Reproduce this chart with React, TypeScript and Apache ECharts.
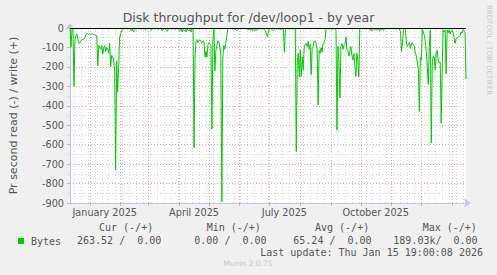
import React, { useEffect, useRef } from 'react';
import * as echarts from 'echarts';

const START_DAY_UTC = Date.UTC(2024, 11, 12);
const DAY_COUNT = 400;
const TITLE = 'Disk throughput for /dev/loop1 - by year';
const Y_AXIS_NAME = 'Pr second read (-) / write (+)';
const Y_MIN = -900;
const Y_MAX = 0;
const Y_STEP = 100;
const MONTH_LABELS = ['January 2025', 'April 2025', 'July 2025', 'October 2025'];
const MONTH_LABEL_DATES = ['2025-01-16', '2025-04-16', '2025-07-16', '2025-10-16'];
const SERIES_NAME = 'Bytes';

// read (-) bytes per second, one value per day from 2024-12-12
const READ_BYTES = [
  -5, -100, -5, -10, -300, -60, -40, -30, -60, -80,
  -75, -65, -60, -60, -55, -50, -35, -30, -30, -35,
  -30, -35, -30, -30, -35, -35, -40, -40, -195, -90,
  -100, -110, -90, -135, -100, -90, -120, -100, -110, -130,
  -80, -200, -140, -145, -165, -220, -730, -170, -330, -200,
  -50, -30, -15, -8, -5, -3, -2, -2, -5, -3,
  -2, -5, -15, -5, -20, -10, -5, -3, -2, -2,
  -3, -2, -8, -3, -2, -2, -10, -3, -2, -2,
  -2, -3, -12, -3, -2, -2, -5, -2, -2, -8,
  -3, -2, -2, -15, -5, -2, -3, -12, -18, -5,
  -3, -2, -5, -2, -3, -2, -8, -2, -3, -2,
  -10, -15, -5, -20, -8, -15, -10, -20, -5, -12,
  -15, -8, -20, -5, -3, -615, -150, -70, -60, -75,
  -65, -60, -70, -75, -65, -70, -150, -120, -150, -85,
  -75, -80, -90, -520, -60, -3, -220, -115, -90, -65,
  -70, -100, -135, -895, -150, -90, -110, -80, -40, -5,
  -2, -2, -3, -2, -5, -2, -3, -10, -15, -8,
  -5, -2, -2, -3, -2, -2, -3, -2, -5, -3,
  -10, -5, -12, -3, -15, -10, -15, -5, -12, -8,
  -5, -2, -3, -2, -5, -3, -10, -15, -35, -45,
  -15, -3, -2, -5, -10, -15, -8, -3, -5, -3,
  -5, -3, -10, -8, -3, -5, -125, -10, -3, -2,
  -3, -5, -2, -3, -5, -2, -3, -5, -636, -180,
  -130, -250, -115, -250, -150, -215, -95, -85, -80, -95,
  -70, -110, -85, -240, -100, -95, -70, -65, -80, -110,
  -395, -115, -130, -100, -125, -80, -75, -60, -5, -3,
  -2, -5, -3, -2, -8, -3, -2, -5, -10, -525,
  -95, -180, -360, -95, -80, -110, -90, -85, -45, -110,
  -115, -145, -120, -95, -140, -165, -130, -190, -250, -130,
  -160, -250, -5, -2, -3, -5, -2, -3, -2, -5,
  -2, -3, -10, -5, -15, -8, -3, -10, -5, -12,
  -5, -8, -15, -5, -10, -3, -12, -5, -3, -2,
  -2, -3, -2, -5, -2, -3, -2, -2, -5, -3,
  -2, -3, -5, -20, -120, -75, -10, -3, -10, -85,
  -95, -80, -75, -105, -80, -75, -90, -95, -130, -145,
  -180, -215, -430, -150, -165, -5, -20, -40, -70, -120,
  -200, -290, -100, -10, -590, -180, -145, -150, -215, -130,
  -115, -165, -180, -175, -490, -200, -10, -20, -10, -235,
  -10, -25, -10, -30, -15, -10, -25, -50, -80, -55,
  -50, -45, -45, -40, -20, -27, -10, -12, -20, -263,
];

const LEGEND_HEADERS = ['Cur (-/+)', 'Min (-/+)', 'Avg (-/+)', 'Max (-/+)'];
const LEGEND_VALUES = ['263.52 /  0.00', '0.00 /  0.00', '65.24 /  0.00', '189.03k/  0.00'];
const LAST_UPDATE = 'Last update: Thu Jan 15 19:00:08 2026';
const WATERMARK = 'RRDTOOL / TOBI OETIKER';
const VERSION_TEXT = 'Munin 2.0.75';

const DAY_MS = 86400000;
const CATEGORIES: string[] = Array.from({ length: DAY_COUNT }, (_, i) =>
  new Date(START_DAY_UTC + i * DAY_MS).toISOString().slice(0, 10)
);
const isMonthStart = (_i: number, v: string) => v.slice(8, 10) === '01';
const isWeekStart = (_i: number, v: string) => new Date(v + 'T00:00:00Z').getUTCDay() === 1;
const labelMap: Record<string, string> = {};
MONTH_LABEL_DATES.forEach((d, k) => (labelMap[d] = MONTH_LABELS[k]));

const FONT = 'DejaVu Sans';
const MONO = 'DejaVu Sans Mono';
const TEXT = '#555555';
const AXIS = '#c4c4ea';
const MAJOR = '#e8a8a8';
const MINOR = '#d6d6d6';

export default function App() {
  const ref = useRef<HTMLDivElement>(null);
  useEffect(() => {
    if (!ref.current) return;
    const chart = echarts.init(ref.current, undefined, { renderer: 'svg' });
    const headerX = [99, 206.7, 315, 422.7];
    const valueX = [77, 194.3, 293.3, 393.3];
    const graphics: any[] = [];
    LEGEND_HEADERS.forEach((t, k) =>
      graphics.push({
        type: 'text', x: headerX[k], y: 227.5,
        style: { text: t, font: `10px "${MONO}"`, fill: TEXT, align: 'left', verticalAlign: 'middle' },
      })
    );
    LEGEND_VALUES.forEach((t, k) =>
      graphics.push({
        type: 'text', x: valueX[k], y: 240,
        style: { text: t, font: `10px "${MONO}"`, fill: TEXT, align: 'left', verticalAlign: 'middle' },
      })
    );
    graphics.push({
      type: 'text', x: 483, y: 252,
      style: { text: LAST_UPDATE, font: `10px "${MONO}"`, fill: TEXT, align: 'right', verticalAlign: 'middle' },
    });
    graphics.push({
      type: 'text', x: 248, y: 263.5,
      style: { text: VERSION_TEXT, font: `7.5px "${FONT}"`, fill: '#c8c8c8', align: 'center', verticalAlign: 'middle' },
    });
    graphics.push({
      type: 'text', x: 488.5, y: 5, rotation: -Math.PI / 2,
      style: { text: WATERMARK, font: `7px "${FONT}"`, fill: '#c8c8c8', align: 'left', verticalAlign: 'middle' },
    });

    chart.setOption({
      animation: false,
      backgroundColor: '#f0f0f0',
      textStyle: { fontFamily: FONT },
      title: {
        text: TITLE, left: 'center', top: 6,
        textStyle: { fontFamily: FONT, fontSize: 12.5, fontWeight: 'normal', color: TEXT },
      },
      legend: {
        data: [SERIES_NAME], left: 13, top: 231, icon: 'rect', itemWidth: 6, itemHeight: 6,
        textStyle: { fontFamily: MONO, fontSize: 10, color: TEXT, padding: [0, 0, 0, 2] },
      },
      grid: {
        left: 67, right: 31, top: 28, bottom: 72, show: true,
        backgroundColor: '#ffffff', borderWidth: 0,
      },
      xAxis: [
        {
          type: 'category', data: CATEGORIES, boundaryGap: false, position: 'bottom',
          axisLine: { show: false },
          axisLabel: { show: false },
          axisTick: { show: true, interval: isWeekStart, length: 2, lineStyle: { color: MINOR } },
          splitLine: { show: true, interval: isWeekStart, lineStyle: { color: MINOR, type: [1, 2], width: 1 } },
        },
        {
          type: 'category', data: CATEGORIES, boundaryGap: false, position: 'bottom',
          axisLine: {
            show: true, lineStyle: { color: AXIS, width: 1 },
            symbol: ['none', 'arrow'], symbolSize: [7, 7], symbolOffset: [0, 5],
          },
          axisTick: { show: true, interval: isMonthStart, length: 3, lineStyle: { color: MAJOR } },
          axisLabel: {
            interval: (_i: number, v: string) => v in labelMap,
            formatter: (v: string) => labelMap[v] || '',
            fontFamily: FONT, fontSize: 9.7, color: TEXT, margin: 4,
          },
          splitLine: { show: true, interval: isMonthStart, lineStyle: { color: MAJOR, type: [1, 2], width: 1 } },
        },
      ],
      yAxis: {
        type: 'value', min: Y_MIN, max: Y_MAX, interval: Y_STEP,
        name: Y_AXIS_NAME, nameLocation: 'middle', nameGap: 51,
        nameTextStyle: { fontFamily: FONT, fontSize: 11, color: TEXT },
        axisLine: {
          show: true, lineStyle: { color: AXIS, width: 1 },
          symbol: ['none', 'arrow'], symbolSize: [7, 7], symbolOffset: [0, 5],
        },
        axisTick: { show: true, length: 3, lineStyle: { color: MAJOR } },
        minorTick: { show: true, splitNumber: 2, length: 2, lineStyle: { color: MINOR } },
        axisLabel: { fontFamily: FONT, fontSize: 9.7, color: TEXT, margin: 6 },
        splitLine: { show: true, lineStyle: { color: MAJOR, type: [1, 2], width: 1 } },
        minorSplitLine: { show: true, lineStyle: { color: MINOR, type: [1, 2], width: 1 } },
      },
      series: [
        {
          name: SERIES_NAME, type: 'line', xAxisIndex: 1, data: READ_BYTES,
          showSymbol: false, symbol: 'none', color: '#00cc00',
          lineStyle: { color: '#00cc00', width: 1 },
          markLine: {
            silent: true, symbol: 'none', label: { show: false },
            lineStyle: { color: '#000000', width: 1, type: 'solid' },
            data: [{ yAxis: 0 }],
          },
        },
      ],
      graphic: graphics,
    });
    return () => chart.dispose();
  }, []);
  return (
    <div
      ref={ref}
      style={{ position: 'fixed', left: 0, top: 0, width: 497, height: 275, background: '#f0f0f0' }}
    />
  );
}
